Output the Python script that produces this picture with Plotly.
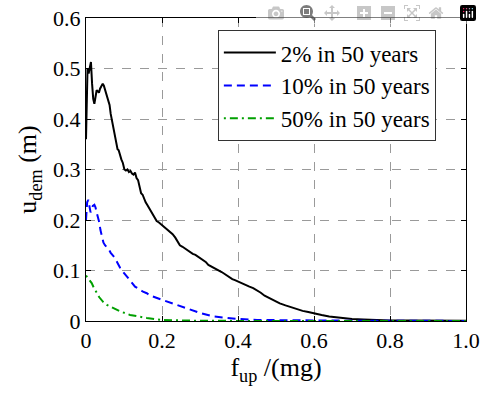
import plotly.graph_objects as go

# ---- data ----
x_2pct = [0.000, 0.002, 0.004, 0.007, 0.010, 0.013, 0.016, 0.019, 0.022, 0.025, 0.028, 0.031, 0.034, 0.037,
          0.041, 0.044, 0.047, 0.050, 0.054, 0.058, 0.062, 0.065, 0.068, 0.071, 0.074, 0.077, 0.080, 0.083,
          0.086, 0.089, 0.093, 0.097, 0.101, 0.105, 0.109, 0.113, 0.117, 0.121, 0.125, 0.129, 0.133, 0.137,
          0.141, 0.145, 0.149, 0.153, 0.157, 0.161, 0.165, 0.170, 0.175, 0.180, 0.186, 0.192, 0.200, 0.206,
          0.213, 0.221, 0.228, 0.235, 0.241, 0.247, 0.254, 0.261, 0.268, 0.274, 0.281, 0.288, 0.294, 0.300,
          0.308, 0.315, 0.322, 0.330, 0.335, 0.342, 0.350, 0.357, 0.363, 0.370, 0.378, 0.385, 0.392, 0.400,
          0.410, 0.420, 0.430, 0.440, 0.450, 0.460, 0.470, 0.475, 0.485, 0.495, 0.510, 0.525, 0.540, 0.555,
          0.570, 0.585, 0.600, 0.620, 0.640, 0.660, 0.680, 0.700, 0.730, 0.760, 0.800, 0.850, 0.900, 1.000]
y_2pct = [0.360, 0.450, 0.500, 0.490, 0.505, 0.513, 0.470, 0.440, 0.430, 0.445, 0.457, 0.455, 0.452, 0.460,
          0.468, 0.470, 0.466, 0.458, 0.450, 0.437, 0.428, 0.410, 0.398, 0.385, 0.370, 0.360, 0.350, 0.340,
          0.338, 0.329, 0.320, 0.313, 0.300, 0.298, 0.300, 0.295, 0.297, 0.292, 0.290, 0.294, 0.283, 0.279,
          0.262, 0.253, 0.250, 0.240, 0.235, 0.230, 0.225, 0.218, 0.213, 0.205, 0.198, 0.195, 0.190, 0.187,
          0.183, 0.177, 0.172, 0.165, 0.156, 0.150, 0.147, 0.143, 0.140, 0.137, 0.133, 0.131, 0.128, 0.125,
          0.120, 0.117, 0.111, 0.108, 0.105, 0.103, 0.100, 0.097, 0.094, 0.090, 0.086, 0.083, 0.081, 0.078,
          0.075, 0.072, 0.068, 0.065, 0.061, 0.056, 0.050, 0.048, 0.044, 0.040, 0.035, 0.031, 0.027, 0.023,
          0.020, 0.018, 0.016, 0.012, 0.009, 0.007, 0.005, 0.004, 0.003, 0.002, 0.001, 0.001, 0.0005, 0.0003]

x_10pct = [0.000, 0.003, 0.006, 0.009, 0.012, 0.015, 0.018, 0.022, 0.025, 0.028, 0.032, 0.035, 0.038, 0.042,
           0.046, 0.050, 0.055, 0.060, 0.065, 0.070, 0.076, 0.083, 0.090, 0.098, 0.107, 0.117, 0.129, 0.140,
           0.150, 0.160, 0.170, 0.185, 0.200, 0.220, 0.240, 0.260, 0.275, 0.300, 0.335, 0.370, 0.400, 0.450,
           0.500, 0.600, 0.700, 0.800, 1.000]
y_10pct = [0.200, 0.235, 0.240, 0.225, 0.215, 0.220, 0.228, 0.230, 0.225, 0.215, 0.205, 0.195, 0.180, 0.165,
           0.155, 0.150, 0.146, 0.142, 0.135, 0.130, 0.125, 0.115, 0.105, 0.097, 0.088, 0.078, 0.068, 0.063,
           0.058, 0.055, 0.050, 0.046, 0.042, 0.037, 0.032, 0.026, 0.022, 0.016, 0.009, 0.006, 0.004, 0.002,
           0.0015, 0.001, 0.0006, 0.0004, 0.0002]

x_50pct = [0.000, 0.005, 0.010, 0.015, 0.020, 0.028, 0.035, 0.045, 0.055, 0.071, 0.090, 0.116, 0.140, 0.160,
           0.200, 0.250, 0.300, 0.400, 0.600, 1.000]
y_50pct = [0.090, 0.085, 0.080, 0.075, 0.067, 0.055, 0.047, 0.038, 0.032, 0.026, 0.019, 0.012, 0.008, 0.006,
           0.002, 0.001, 0.0005, 0.0002, 0.0001, 0.0001]

series_names = ["2% in 50 years", "10% in 50 years", "50% in 50 years"]

x_tickvals = [0, 0.2, 0.4, 0.6, 0.8, 1.0]
x_ticktext = ["0", "0.2", "0.4", "0.6", "0.8", "1.0"]
y_tickvals = [0, 0.1, 0.2, 0.3, 0.4, 0.5, 0.6]
y_ticktext = ["0", "0.1", "0.2", "0.3", "0.4", "0.5", "0.6"]

FONT = "'Liberation Serif', 'DejaVu Serif', serif"

fig = go.Figure()
fig.add_trace(go.Scatter(x=x_2pct, y=y_2pct, mode="lines", name=series_names[0],
                         line=dict(color="black", width=2)))
fig.add_trace(go.Scatter(x=x_10pct, y=y_10pct, mode="lines", name=series_names[1],
                         line=dict(color="#0000ff", width=2, dash="8px,5px")))
fig.add_trace(go.Scatter(x=x_50pct, y=y_50pct, mode="lines", name=series_names[2],
                         line=dict(color="#00a000", width=2, dash="2px,4px,8px,4px")))

axis_common = dict(
    showline=True, linecolor="black", linewidth=1, mirror="ticks",
    ticks="inside", ticklen=5, tickcolor="black",
    showgrid=True, gridcolor="#9a9a9a", griddash="dash", gridwidth=1,
    zeroline=False, automargin=False, ticklabeloverflow="allow",
    tickfont=dict(family=FONT, size=22, color="black"),
)

fig.update_xaxes(range=[0, 1.0], tickvals=x_tickvals, ticktext=x_ticktext,
                 title=dict(text="f<sub>up</sub> /(mg)", font=dict(family=FONT, size=26, color="black"),
                            standoff=2),
                 **axis_common)
fig.update_yaxes(range=[0, 0.6], tickvals=y_tickvals, ticktext=y_ticktext,
                 title=dict(text="u<sub>dem</sub> (m)", font=dict(family=FONT, size=26, color="black"),
                            standoff=8),
                 **axis_common)

fig.update_layout(
    width=482, height=396,
    margin=dict(l=86, r=16, t=18, b=75),
    paper_bgcolor="white", plot_bgcolor="white",
    font=dict(family=FONT, color="black"),
    legend=dict(x=0.347, y=0.96, xanchor="left", yanchor="top",
                bgcolor="white", bordercolor="#333", borderwidth=1,
                font=dict(family=FONT, size=23, color="black"),
                itemwidth=52, tracegroupgap=0),
    showlegend=True,
)

# remove the default 8px page margin so the figure sits at the window origin
fig.write_html("out.html", post_script="document.body.style.margin='0';")
